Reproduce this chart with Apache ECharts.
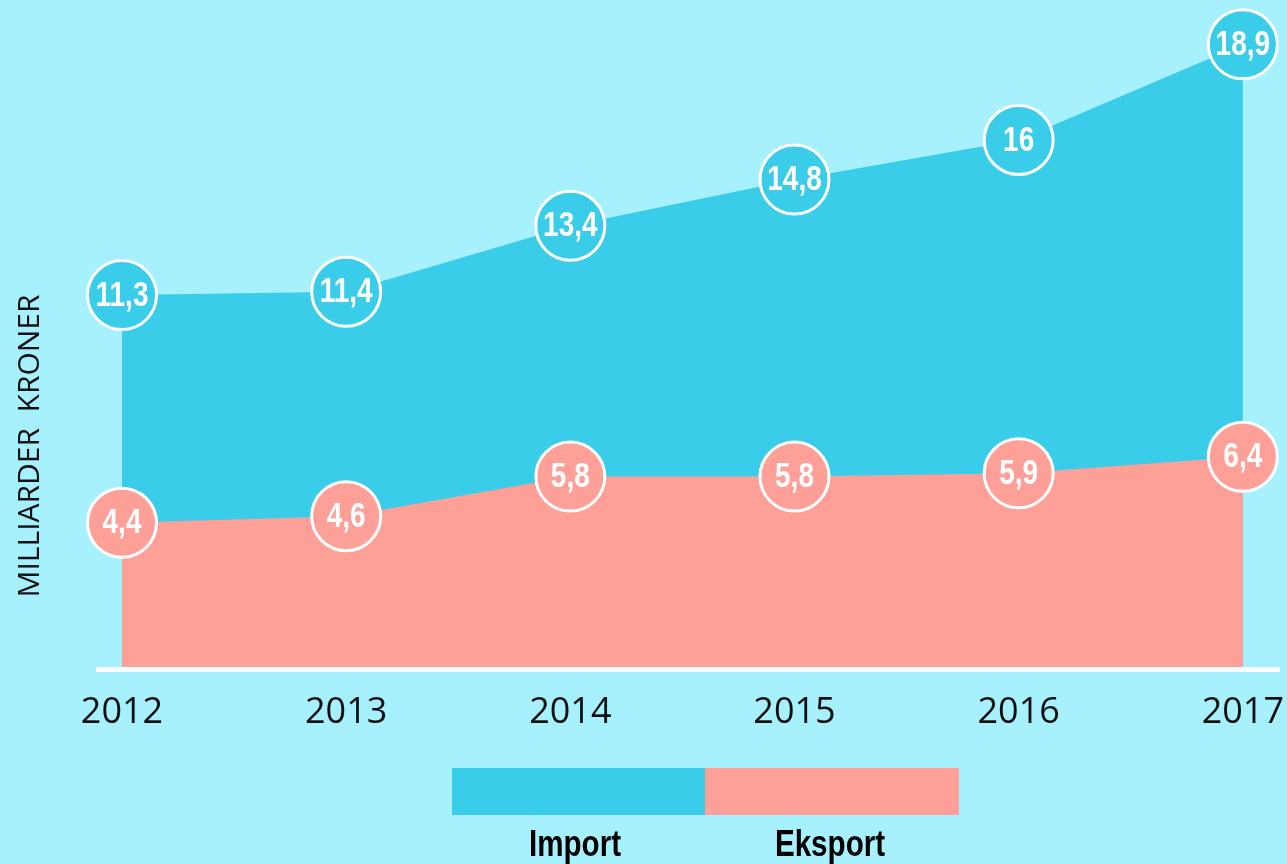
<!DOCTYPE html>
<html><head><meta charset="utf-8">
<script src="https://cdn.jsdelivr.net/npm/echarts@6/dist/echarts.min.js"></script>
<style>html,body{margin:0;padding:0;background:#A7F0FE;}#c{width:1287px;height:864px;}</style>
</head><body><div id="c"></div>
<script>
const years = ['2012','2013','2014','2015','2016','2017'];
const importValues = [11.3, 11.4, 13.4, 14.8, 16, 18.9];
const eksportValues = [4.4, 4.6, 5.8, 5.8, 5.9, 6.4];
const seriesNames = ['Import', 'Eksport'];
const yAxisName = 'MILLIARDER  KRONER';

const cImport = '#3ACDE9';
const cEksport = '#FFA098';
const narrowFont = '"Liberation Sans", Arial, sans-serif';
const NARROW = 0.8;
const fmtNum = v => String(v).replace('.', ',');

const chart = echarts.init(document.getElementById('c'), null, {renderer: 'canvas'});
function area(name, data, color) {
  return {
    name, type: 'line', data,
    symbol: 'circle', symbolSize: 69,
    itemStyle: {color: color, borderColor: '#fff', borderWidth: 3},
    lineStyle: {width: 0, color: color},
    areaStyle: {color: color, opacity: 1},
    label: {show: false},
    emphasis: {disabled: true},
    animation: false
  };
}
function labels(data) {
  return {
    type: 'custom', z: 10, silent: true, animation: false,
    data: data.map((v, i) => [i, v]),
    renderItem: function (params, api) {
      const p = api.coord([api.value(0), api.value(1)]);
      return {
        type: 'text', x: p[0], y: p[1] + 1, scaleX: NARROW,
        style: {text: fmtNum(api.value(1)), fill: '#fff',
          font: 'bold 35px ' + narrowFont, align: 'center', verticalAlign: 'middle'}
      };
    }
  };
}
chart.setOption({
  backgroundColor: '#A7F0FE',
  animation: false,
  grid: {left: 122, right: 43, top: 8, bottom: 196},
  xAxis: {
    type: 'category', data: years, boundaryGap: false,
    axisLine: {show: false}, axisTick: {show: false},
    axisLabel: {color: '#111', fontSize: 36, fontFamily: '"Open Sans",sans-serif', margin: 27}
  },
  yAxis: {
    type: 'value', min: 0, max: 20,
    axisLine: {show: false}, axisTick: {show: false}, axisLabel: {show: false},
    splitLine: {show: false}
  },
  series: [
    area(seriesNames[0], importValues, cImport),
    area(seriesNames[1], eksportValues, cEksport),
    labels(importValues),
    labels(eksportValues)
  ],
  graphic: [
    {type: 'rect', shape: {x: 96, y: 667, width: 1184, height: 5}, style: {fill: '#fff'}, z: 100},
    {type: 'text', x: 30, y: 446, rotation: Math.PI/2,
      style: {text: yAxisName, fill: '#111', font: '30px "Open Sans", sans-serif', align: 'center', verticalAlign: 'middle'}},
    {type: 'rect', shape: {x: 452, y: 768, width: 253, height: 47}, style: {fill: cImport}},
    {type: 'rect', shape: {x: 705, y: 768, width: 254, height: 47}, style: {fill: cEksport}},
    {type: 'text', x: 575, y: 846, scaleX: NARROW, style: {text: seriesNames[0], fill: '#000', font: 'bold 37px ' + narrowFont, align: 'center', verticalAlign: 'middle'}},
    {type: 'text', x: 830, y: 846, scaleX: NARROW, style: {text: seriesNames[1], fill: '#000', font: 'bold 37px ' + narrowFont, align: 'center', verticalAlign: 'middle'}}
  ]
});
</script></body></html>
